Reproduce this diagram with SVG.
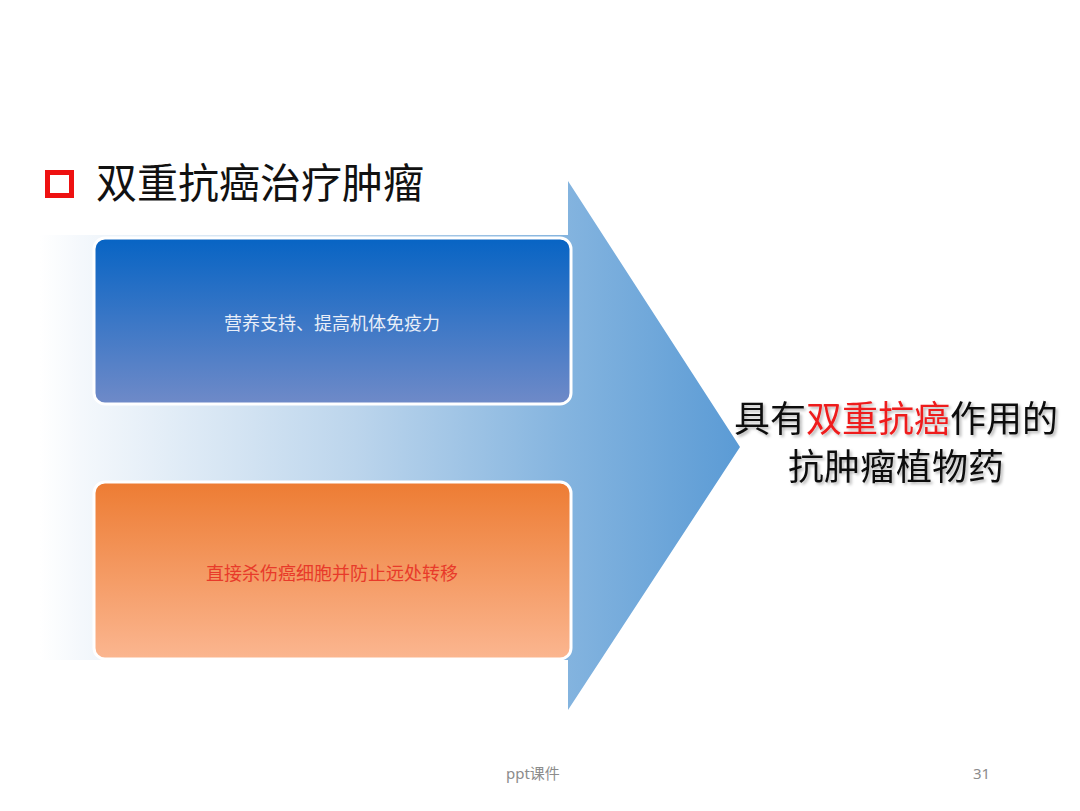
<svg xmlns="http://www.w3.org/2000/svg" width="1080" height="811" viewBox="0 0 1080 811">
<defs>
<linearGradient id="arrowGrad" x1="40" y1="0" x2="740" y2="0" gradientUnits="userSpaceOnUse">
<stop offset="0" stop-color="#ffffff"/>
<stop offset="0.06" stop-color="#f4f8fc"/>
<stop offset="0.45" stop-color="#bcd5ec"/>
<stop offset="0.75" stop-color="#84b4df"/>
<stop offset="1" stop-color="#5b9bd5"/>
</linearGradient>
<linearGradient id="blueGrad" x1="0" y1="0" x2="0" y2="1">
<stop offset="0" stop-color="#0764c4"/>
<stop offset="1" stop-color="#6f8ac8"/>
</linearGradient>
<linearGradient id="orangeGrad" x1="0" y1="0" x2="0" y2="1">
<stop offset="0" stop-color="#ed7c33"/>
<stop offset="1" stop-color="#fbb690"/>
</linearGradient>
<filter id="shadow" x="-10%" y="-20%" width="120%" height="150%">
<feDropShadow dx="2" dy="2" stdDeviation="1.5" flood-color="#000" flood-opacity="0.3"/>
</filter>
<style>
.cjk{font-family:"Noto Sans CJK SC","Noto Sans",sans-serif;}
.box{stroke:#ffffff;stroke-width:3;}
.boxtext{font-size:18px;text-anchor:middle;}
.foot{font-family:"Noto Sans","Noto Sans CJK SC",sans-serif;font-size:15px;fill:#8c8c8c;}
</style>
</defs>
<rect width="1080" height="811" fill="#ffffff"/>
<g id="title">
<rect x="47.5" y="172.5" width="24" height="23" fill="none" stroke="#ee1111" stroke-width="5"/>
<text x="96" y="198" class="cjk" font-size="41" fill="#111111">双重抗癌治疗肿瘤</text>
</g>
<g id="bigArrow">
<path d="M40,235 L568,235 L568,181 L740,447 L568,710 L568,660 L40,660 Z" fill="url(#arrowGrad)"/>
</g>
<g id="boxTop">
<rect x="94" y="238" width="477" height="166" rx="11" class="box" fill="url(#blueGrad)"/>
<text x="332" y="330" class="cjk boxtext" fill="#e8eef8">营养支持、提高机体免疫力</text>
</g>
<g id="boxBottom">
<rect x="94" y="482" width="477" height="177" rx="11" class="box" fill="url(#orangeGrad)"/>
<text x="332" y="580" class="cjk boxtext" fill="#e83a2a">直接杀伤癌细胞并防止远处转移</text>
</g>
<g id="result" filter="url(#shadow)">
<text class="cjk" font-size="36" text-anchor="middle" fill="#111111"><tspan x="896" y="432">具有<tspan fill="#ee1c1c">双重抗癌</tspan>作用的</tspan><tspan x="896" y="480">抗肿瘤植物药</tspan></text>
</g>
<g id="connectors"></g>
<g id="footer">
<text x="506" y="779" class="foot">ppt课件</text>
<text x="973" y="779" class="foot">31</text>
</g>
</svg>
